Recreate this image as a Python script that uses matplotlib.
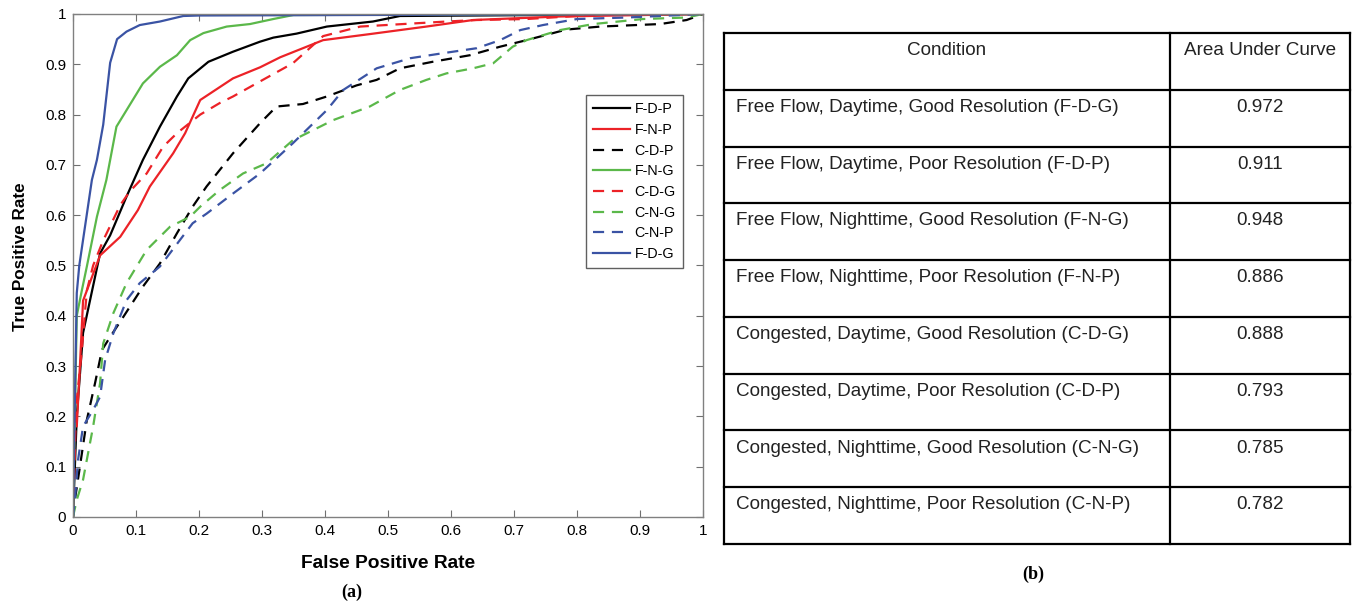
import matplotlib.pyplot as plt

plt.rcParams['font.family'] = ['Liberation Sans', 'DejaVu Sans']

# ROC curves (false positive rate, true positive rate)
fdp_x = [0, 0.006, 0.016, 0.043, 0.059, 0.085, 0.111, 0.138, 0.165, 0.183, 0.215, 0.254, 0.297, 0.318, 0.355, 0.403, 0.476, 0.519, 1]
fdp_y = [0, 0.20, 0.366, 0.524, 0.56, 0.637, 0.71, 0.776, 0.836, 0.872, 0.905, 0.925, 0.945, 0.953, 0.961, 0.975, 0.985, 0.996, 1]

fnp_x = [0, 0.003, 0.006, 0.011, 0.016, 0.025, 0.043, 0.075, 0.103, 0.122, 0.159, 0.178, 0.202, 0.254, 0.297, 0.329, 0.397, 0.471, 0.561, 0.635, 0.773, 1]
fnp_y = [0, 0.21, 0.18, 0.30, 0.43, 0.46, 0.52, 0.557, 0.61, 0.657, 0.723, 0.763, 0.829, 0.872, 0.894, 0.914, 0.948, 0.96, 0.975, 0.988, 0.995, 1]

cdp_x = [0, 0.003, 0.011, 0.022, 0.035, 0.046, 0.059, 0.08, 0.111, 0.138, 0.165, 0.19, 0.212, 0.254, 0.297, 0.323, 0.365, 0.403, 0.45, 0.482, 0.519, 0.571, 0.63, 0.678, 0.72, 0.783, 0.837, 0.932, 0.974, 1]
cdp_y = [0, 0.034, 0.10, 0.193, 0.266, 0.332, 0.358, 0.398, 0.458, 0.504, 0.564, 0.617, 0.657, 0.723, 0.783, 0.816, 0.821, 0.836, 0.858, 0.869, 0.892, 0.905, 0.918, 0.935, 0.948, 0.969, 0.975, 0.98, 0.988, 1]

fng_x = [0, 0.006, 0.014, 0.022, 0.038, 0.053, 0.069, 0.111, 0.138, 0.165, 0.186, 0.207, 0.244, 0.281, 0.318, 0.35, 1]
fng_y = [0, 0.40, 0.45, 0.498, 0.597, 0.67, 0.776, 0.862, 0.895, 0.918, 0.948, 0.962, 0.975, 0.98, 0.99, 0.998, 1]

cdg_x = [0, 0.005, 0.014, 0.022, 0.032, 0.048, 0.075, 0.09, 0.117, 0.143, 0.165, 0.202, 0.233, 0.254, 0.297, 0.349, 0.397, 0.456, 0.524, 0.593, 0.641, 0.72, 0.826, 1]
cdg_y = [0, 0.22, 0.33, 0.45, 0.50, 0.55, 0.62, 0.647, 0.683, 0.736, 0.763, 0.80, 0.823, 0.836, 0.866, 0.902, 0.956, 0.975, 0.98, 0.985, 0.988, 0.99, 0.998, 1]

cng_x = [0, 0.006, 0.016, 0.032, 0.043, 0.048, 0.064, 0.085, 0.117, 0.154, 0.186, 0.202, 0.233, 0.27, 0.307, 0.349, 0.413, 0.471, 0.519, 0.561, 0.593, 0.635, 0.667, 0.698, 0.72, 0.773, 0.826, 0.905, 0.974, 1]
cng_y = [0, 0.034, 0.074, 0.18, 0.266, 0.345, 0.405, 0.465, 0.531, 0.577, 0.597, 0.617, 0.65, 0.683, 0.703, 0.749, 0.789, 0.816, 0.849, 0.869, 0.882, 0.892, 0.902, 0.935, 0.948, 0.968, 0.98, 0.99, 0.993, 1]

cnp_x = [0, 0.003, 0.008, 0.016, 0.032, 0.043, 0.051, 0.064, 0.085, 0.106, 0.138, 0.17, 0.19, 0.212, 0.254, 0.297, 0.349, 0.403, 0.429, 0.482, 0.535, 0.587, 0.641, 0.678, 0.71, 0.746, 0.8, 0.879, 1]
cnp_y = [0, 0.034, 0.113, 0.18, 0.213, 0.239, 0.312, 0.365, 0.431, 0.465, 0.498, 0.551, 0.584, 0.603, 0.643, 0.683, 0.743, 0.809, 0.849, 0.892, 0.912, 0.922, 0.932, 0.948, 0.968, 0.978, 0.99, 0.993, 1]

fdg_x = [0, 0.003, 0.006, 0.01, 0.03, 0.038, 0.048, 0.059, 0.07, 0.085, 0.106, 0.138, 0.175, 0.2, 1]
fdg_y = [0, 0.23, 0.445, 0.50, 0.67, 0.71, 0.78, 0.903, 0.95, 0.965, 0.978, 0.985, 0.996, 0.997, 1]

# table (b)
conditions = [
    'Free Flow, Daytime, Good Resolution (F-D-G)',
    'Free Flow, Daytime, Poor Resolution (F-D-P)',
    'Free Flow, Nighttime, Good Resolution (F-N-G)',
    'Free Flow, Nighttime, Poor Resolution (F-N-P)',
    'Congested, Daytime, Good Resolution (C-D-G)',
    'Congested, Daytime, Poor Resolution (C-D-P)',
    'Congested, Nighttime, Good Resolution (C-N-G)',
    'Congested, Nighttime, Poor Resolution (C-N-P)',
]
auc = ['0.972', '0.911', '0.948', '0.886', '0.888', '0.793', '0.785', '0.782']

blue = '#3a53a4'
red = '#ec2227'
green = '#5bb84a'
dash = (5, 3.5)

fig = plt.figure(figsize=(13.54, 6.08), dpi=100)
ax = fig.add_axes([0.0539, 0.1497, 0.4653, 0.8273])

ax.plot(fdp_x, fdp_y, color='black', lw=1.6, label='F-D-P')
ax.plot(fnp_x, fnp_y, color=red, lw=1.6, label='F-N-P')
ax.plot(cdp_x, cdp_y, color='black', lw=1.6, dashes=dash, label='C-D-P')
ax.plot(fng_x, fng_y, color=green, lw=1.6, label='F-N-G')
ax.plot(cdg_x, cdg_y, color=red, lw=1.6, dashes=dash, label='C-D-G')
ax.plot(cng_x, cng_y, color=green, lw=1.6, dashes=dash, label='C-N-G')
ax.plot(cnp_x, cnp_y, color=blue, lw=1.6, dashes=dash, label='C-N-P')
ax.plot(fdg_x, fdg_y, color=blue, lw=1.6, label='F-D-G')

ax.set_xlim(0, 1)
ax.set_ylim(0, 1)
ticks = [i / 10 for i in range(11)]
ticklabels = ['0'] + [f'{t:.1f}' for t in ticks[1:-1]] + ['1']
ax.set_xticks(ticks)
ax.set_xticklabels(ticklabels)
ax.set_yticks(ticks)
ax.set_yticklabels(ticklabels)
ax.tick_params(direction='in', top=True, right=True, length=5, color='#707070', labelsize=11, pad=5)
for s in ax.spines.values():
    s.set_color('#808080')
    s.set_linewidth(1.0)
ax.set_xlabel('False Positive Rate', fontsize=13.8, fontweight='bold')
ax.xaxis.set_label_coords(0.5, -0.076)
ax.set_ylabel('True Positive Rate', fontsize=12.3, fontweight='bold')
ax.yaxis.set_label_coords(-0.072, 0.517)

leg = ax.legend(loc='upper right', bbox_to_anchor=(0.968, 0.839), borderaxespad=0, fontsize=10.3,
                handlelength=2.6, handletextpad=0.3, labelspacing=0.47, borderpad=0.5,
                fancybox=False, framealpha=1)
leg.get_frame().set_edgecolor('#606060')
leg.get_frame().set_linewidth(1.0)

fig.text(0.26, 0.018, '(a)', fontsize=13, fontweight='bold', family='Liberation Serif', ha='center')

# table drawn in its own axes
tab = fig.add_axes([0.5347, 0.1053, 0.4623, 0.8404])
tab.set_xlim(0, 1)
tab.set_ylim(len(conditions) + 1, 0)
tab.axis('off')
split = (1170 - 724) / (1350 - 724)
nrows = len(conditions) + 1
for r in range(nrows + 1):
    tab.plot([0, 1], [r, r], color='black', lw=1.6, clip_on=False, solid_capstyle='projecting')
for xv in [0, split, 1]:
    tab.plot([xv, xv], [0, nrows], color='black', lw=1.6, clip_on=False, solid_capstyle='projecting')

txt = '#222222'
tab.text(split / 2, 0.31, 'Condition', ha='center', va='center', fontsize=13.6, color=txt)
tab.text((split + 1) / 2, 0.31, 'Area Under Curve', ha='center', va='center', fontsize=13.6, color=txt)
for i, (c, a) in enumerate(zip(conditions, auc)):
    tab.text(0.019, i + 1.31, c, ha='left', va='center', fontsize=13.6, color=txt)
    tab.text((split + 1) / 2, i + 1.31, a, ha='center', va='center', fontsize=13.6, color=txt)

fig.text(0.763, 0.048, '(b)', fontsize=13, fontweight='bold', family='Liberation Serif', ha='center')

fig.savefig('out.png', dpi=100)
